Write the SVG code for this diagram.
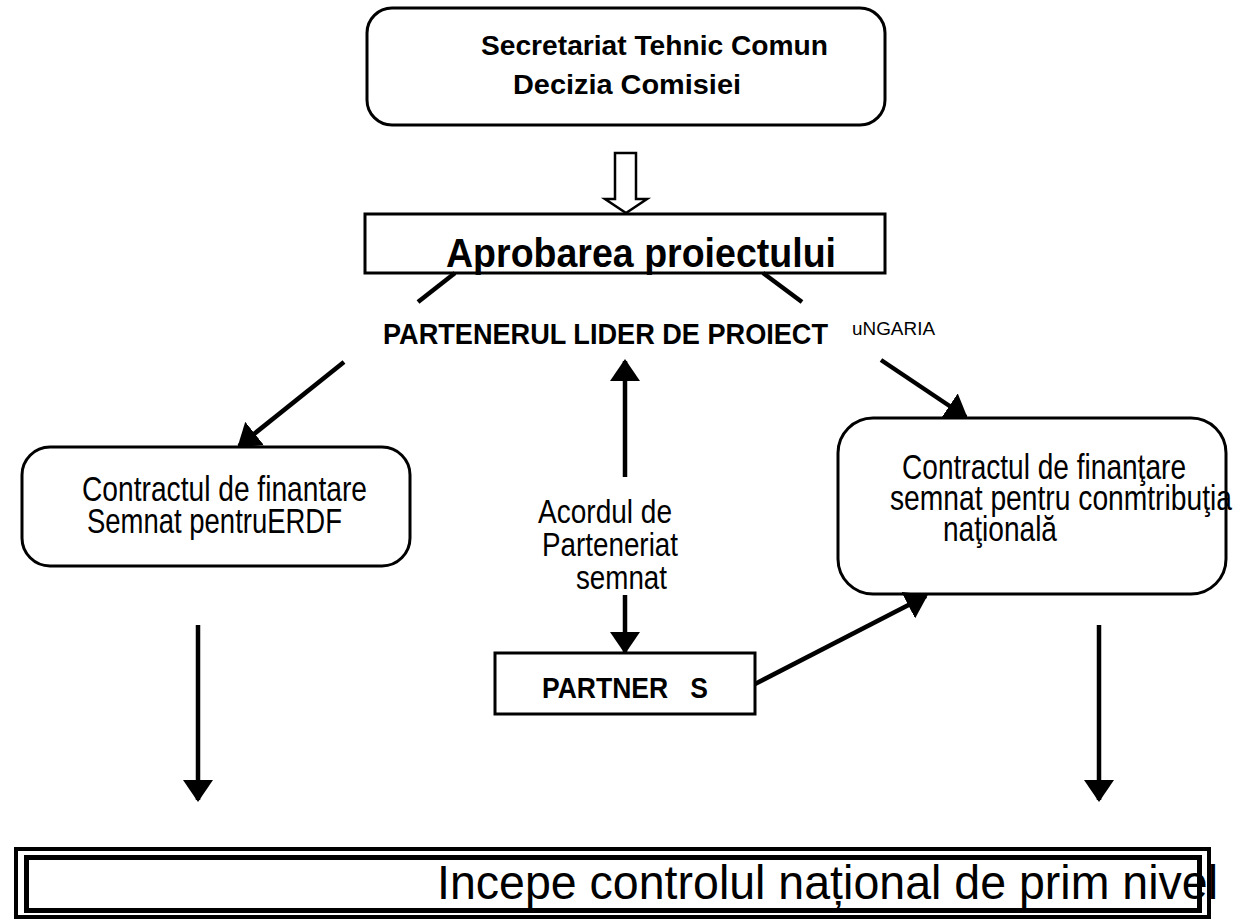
<svg xmlns="http://www.w3.org/2000/svg" width="1235" height="919" viewBox="0 0 1235 919">
  <style>
    .box { fill: #fff; stroke: #000; stroke-width: 3; }
    .t { font-family: "Liberation Sans", Arial, sans-serif; fill: #000; }
    .b { font-weight: bold; }
    .c { fill: none; stroke: #000; stroke-width: 4.5; }
  </style>
  <defs>
    <marker id="ah" viewBox="0 0 22 30" refX="20" refY="15" markerWidth="22" markerHeight="30" markerUnits="userSpaceOnUse" orient="auto">
      <path d="M0,0 L22,15 L0,30 z" fill="#000"/>
    </marker>
  </defs>
  <rect width="1235" height="919" fill="#fff"/>

  <g id="n-secretariat">
    <rect class="box" x="367" y="8" width="518" height="117" rx="25" ry="25"/>
    <text class="t b" x="481" y="55" font-size="27" textLength="347" lengthAdjust="spacingAndGlyphs">Secretariat Tehnic Comun</text>
    <text class="t b" x="513" y="94" font-size="27" textLength="228" lengthAdjust="spacingAndGlyphs">Decizia Comisiei</text>
  </g>

  <g id="n-aprobarea">
    <rect class="box" x="365" y="214" width="520" height="59"/>
    <text class="t b" x="446" y="267" font-size="41" textLength="390" lengthAdjust="spacingAndGlyphs">Aprobarea proiectului</text>
  </g>

  <g id="n-lider">
    <text class="t b" x="383" y="344" font-size="29" textLength="445" lengthAdjust="spacingAndGlyphs">PARTENERUL LIDER DE PROIECT</text>
    <text class="t" x="852" y="335" font-size="18" textLength="83" lengthAdjust="spacingAndGlyphs">uNGARIA</text>
  </g>

  <g id="n-contract-erdf">
    <rect class="box" x="22" y="447" width="388" height="119" rx="28" ry="28"/>
    <text class="t" x="82" y="501" font-size="35" textLength="285" lengthAdjust="spacingAndGlyphs">Contractul de finantare</text>
    <text class="t" x="87" y="533" font-size="35" textLength="255" lengthAdjust="spacingAndGlyphs">Semnat pentruERDF</text>
  </g>

  <g id="n-contract-national">
    <rect class="box" x="838" y="418" width="388" height="176" rx="35" ry="35"/>
    <text class="t" x="902" y="479" font-size="35" textLength="284" lengthAdjust="spacingAndGlyphs">Contractul de finanţare</text>
    <text class="t" x="890" y="510" font-size="35" textLength="342" lengthAdjust="spacingAndGlyphs">semnat pentru conmtribuţia</text>
    <text class="t" x="943" y="541" font-size="35" textLength="114" lengthAdjust="spacingAndGlyphs">naţională</text>
  </g>

  <g id="n-acord">
    <text class="t" x="538" y="523" font-size="34" textLength="134" lengthAdjust="spacingAndGlyphs">Acordul de</text>
    <text class="t" x="542" y="556" font-size="34" textLength="136" lengthAdjust="spacingAndGlyphs">Parteneriat</text>
    <text class="t" x="576" y="589" font-size="34" textLength="91" lengthAdjust="spacingAndGlyphs">semnat</text>
  </g>

  <g id="n-partners">
    <rect class="box" x="495" y="653" width="260" height="61"/>
    <text class="t b" x="542" y="698" font-size="29" textLength="166" lengthAdjust="spacingAndGlyphs" xml:space="preserve">PARTNER   S</text>
  </g>

  <g id="n-control">
    <rect x="16" y="849" width="1193" height="68" fill="#fff" stroke="#000" stroke-width="4"/>
    <rect x="26.5" y="857.5" width="1173" height="53" fill="none" stroke="#000" stroke-width="5"/>
    <text class="t" x="437" y="899" font-size="48" textLength="781" lengthAdjust="spacingAndGlyphs">Incepe controlul național de prim nivel</text>
  </g>

  <g id="connectors">
    <path d="M615,153 L636,153 L636,199 L647,199 L626,213 L605,199 L615,199 Z" fill="#fff" stroke="#000" stroke-width="2.5" stroke-linejoin="miter"/>
    <line class="c" x1="455" y1="273" x2="418" y2="302"/>
    <line class="c" x1="344" y1="362" x2="239" y2="446" marker-end="url(#ah)"/>
    <line class="c" x1="763" y1="273" x2="802" y2="302"/>
    <line class="c" x1="881" y1="360" x2="966" y2="417" marker-end="url(#ah)"/>
    <line class="c" x1="625" y1="477" x2="625" y2="361" marker-end="url(#ah)"/>
    <line class="c" x1="625" y1="595" x2="625" y2="652" marker-end="url(#ah)"/>
    <line class="c" x1="755" y1="684" x2="926" y2="596" marker-end="url(#ah)"/>
    <line class="c" x1="198" y1="625" x2="198" y2="800" marker-end="url(#ah)"/>
    <line class="c" x1="1099" y1="625" x2="1099" y2="800" marker-end="url(#ah)"/>
  </g>
</svg>
